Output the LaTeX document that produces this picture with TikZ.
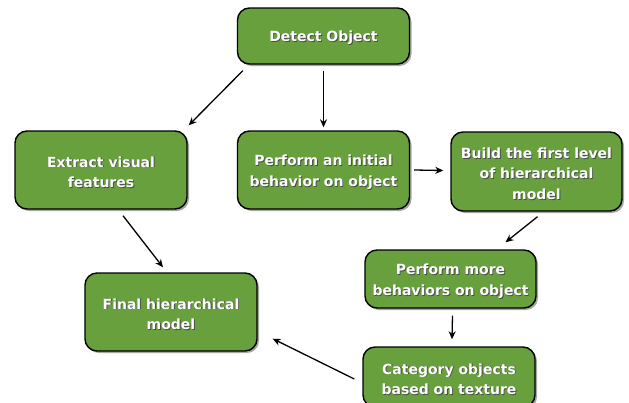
\documentclass[tikz,border=0pt]{standalone}
\usepackage{fontspec}
\setmainfont{DejaVu Sans}
\usetikzlibrary{arrows.meta,shadows}
\definecolor{boxgreen}{RGB}{104,160,62}
\newcommand{\sh}[1]{\leavevmode\raisebox{-2.5pt}[\height][\depth]{\rlap{\kern0.9pt\raisebox{-0.9pt}{\color{black!70}#1}}#1}}
\tikzset{
  gbox/.style={draw=black, line width=1.4pt, fill=boxgreen, rounded corners=12pt,
    minimum width=172pt, text=white, font=\bfseries\fontsize{14}{20.5}\selectfont,
    align=center, inner sep=2pt,
    drop shadow={shadow xshift=2pt, shadow yshift=-2pt, opacity=0.35, fill=black}},
  arr/.style={-{Stealth[length=8pt,width=7pt]}, line width=1.3pt, black}
}
\begin{document}
\begin{tikzpicture}[x=1pt,y=-1pt]
\useasboundingbox[fill=white] (0,0) rectangle (629,402);
\node[gbox, minimum height=56pt] (det) at (323.5,36) {\sh{Detect Object}};
\node[gbox, minimum height=78pt] (ext) at (101,170) {\sh{Extract visual}\\\sh{features}};
\node[gbox, minimum height=78pt] (ini) at (323.5,170) {\sh{Perform an initial}\\\sh{behavior on object}};
\node[gbox, minimum height=79pt, minimum width=171pt] (bld) at (536.5,171.5) {\sh{Build the first level}\\\sh{of hierarchical}\\\sh{model}};
\node[gbox, minimum height=58pt, minimum width=171pt] (more) at (450.5,279) {\sh{Perform more}\\\sh{behaviors on object}};
\node[gbox, minimum height=78pt] (fin) at (171,312) {\sh{Final hierarchical}\\\sh{model}};
\node[gbox, minimum height=60pt] (cat) at (449,377) {\sh{Category objects}\\\sh{based on texture}};
\draw[arr] ([xshift=6pt,yshift=-6pt]det.south west) -- ([xshift=1pt,yshift=5pt]ext.north east);
\draw[arr] ([yshift=-6pt]det.south) -- ([yshift=3pt]ini.north);
\draw[arr] ([xshift=22pt,yshift=-6pt]ext.south) -- ([xshift=-8pt,yshift=5pt]fin.north);
\draw[arr] ([xshift=4pt]ini.east) -- ([xshift=-7pt,yshift=1pt]bld.west);
\draw[arr] ([xshift=1pt,yshift=-5pt]bld.south) -- ([xshift=55pt,yshift=7pt]more.north);
\draw[arr] ([xshift=2pt,yshift=-7pt]more.south) -- ([xshift=3pt,yshift=7pt]cat.north);
\draw[arr] ([xshift=-8pt,yshift=-2pt]cat.west) -- ([xshift=15pt,yshift=13pt]fin.south east);
\end{tikzpicture}
\end{document}
